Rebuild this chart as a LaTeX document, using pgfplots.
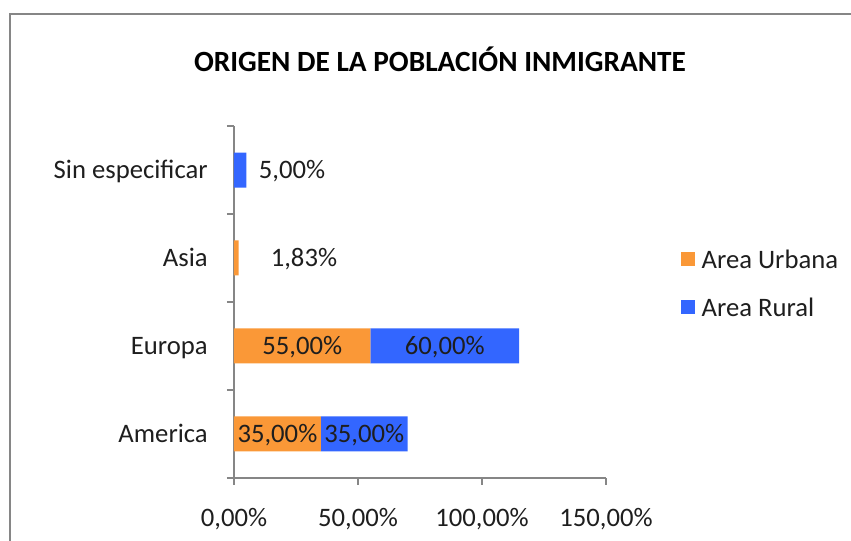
\documentclass[border=0pt]{standalone}
\usepackage{fontspec}
\setmainfont{Carlito}
\usepackage{pgfplots}
\pgfplotsset{compat=1.18}
\definecolor{urb}{RGB}{250,152,55}
\definecolor{rur}{RGB}{51,102,255}
\definecolor{axgray}{RGB}{134,134,134}
\definecolor{txt}{RGB}{30,30,30}
\tikzset{lbl/.style={anchor=base, yshift=-6.4pt, inner sep=0pt, font=\fontsize{20}{24}\selectfont, text=txt}}
\pgfplotsset{geom/.style={at={(175.5pt,-358.5pt)}, anchor=south west,
  scale only axis, width=279pt, height=264pt,
  xmin=0, xmax=150, ymin=-0.5, ymax=3.5}}
\begin{document}
\begin{tikzpicture}
\useasboundingbox (0,0) rectangle (638.25pt,-405.75pt);
\clip (0,0) rectangle (638.25pt,-405.75pt);
\draw[axgray, line width=1.5pt] (7.5pt,-10.5pt) rectangle (700pt,-500pt);
\node[anchor=base, font=\fontsize{22}{26}\selectfont\bfseries, text=black, inner sep=0pt] at (330pt,-54pt) {ORIGEN DE LA POBLACIÓN INMIGRANTE};
\begin{axis}[
  geom,
  xbar stacked, bar width=26.25pt,
  axis x line*=bottom, axis y line*=left,
  axis line style={axgray, line width=1pt, -},
  tick align=outside,
  tick style={axgray, line width=1pt},
  major tick length=5.25pt, minor tick length=5.25pt,
  xtick={0,50,100,150},
  xticklabels={{0,00\%},{50,00\%},{100,00\%},{150,00\%}},
  ytick={0,1,2,3},
  yticklabels={America,Europa,Asia,Sin especificar},
  minor ytick={-0.5,0.5,1.5,2.5,3.5},
  major y tick style={draw=none},
  xticklabel style={font=\fontsize{20}{24}\selectfont, text=txt, anchor=base, inner sep=0pt, yshift=-31pt},
  yticklabel style={font=\fontsize{20}{24}\selectfont, text=txt, anchor=base east, inner sep=0pt, xshift=-14.25pt, yshift=-6.4pt},
  legend style={at={(1.2016,0.645)}, anchor=north west, draw=none, fill=none, inner sep=0pt, outer sep=0pt, row sep=23.1pt, column sep=5pt, font=\fontsize{20}{24}\selectfont, nodes={inner sep=0pt, text height=12.9pt, text depth=0pt, text=txt}},
  legend cell align=left,
  legend image code/.code={\fill[#1] (0pt,-5pt) rectangle (10.5pt,5.5pt);},
  clip=false,
]
\addplot[fill=urb, draw=none] coordinates {(35,0) (55,1) (1.83,2) (0,3)};
\addplot[fill=rur, draw=none] coordinates {(35,0) (60,1) (0,2) (5,3)};
\legend{Area Urbana, Area Rural}
\end{axis}
\begin{axis}[geom, hide axis, clip=false]
\node[lbl] at (axis cs:17.5,0) {35,00\%};
\node[lbl] at (axis cs:52.5,0) {35,00\%};
\node[lbl] at (axis cs:27.5,1) {55,00\%};
\node[lbl] at (axis cs:85,1) {60,00\%};
\node[lbl] at (axis cs:28.2,2) {1,83\%};
\node[lbl] at (axis cs:23.4,3) {5,00\%};
\end{axis}
\end{tikzpicture}
\end{document}
